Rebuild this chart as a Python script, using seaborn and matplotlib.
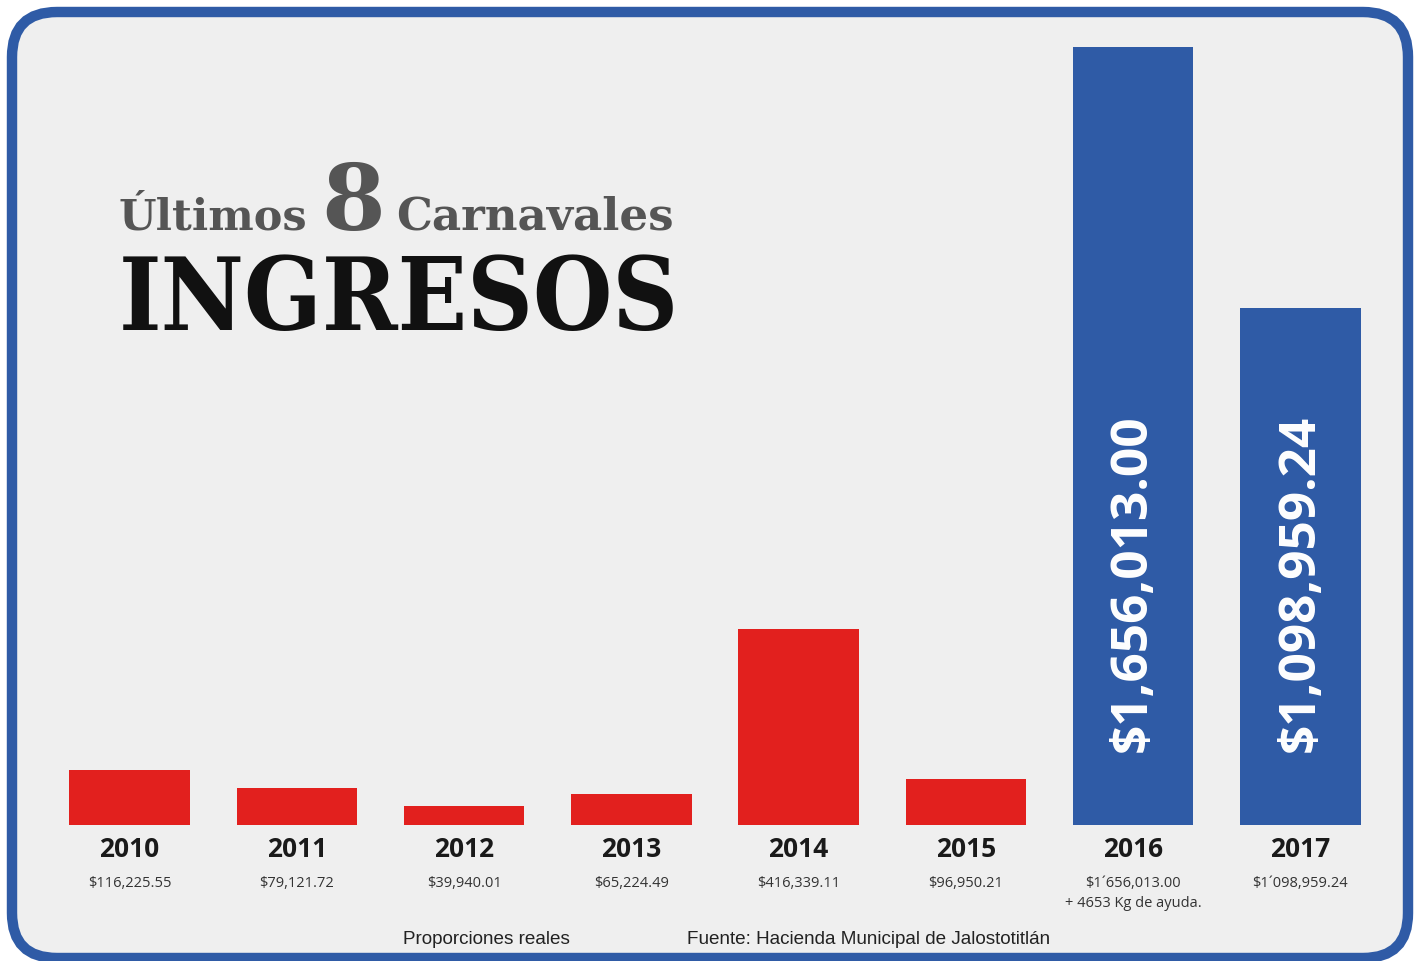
import numpy as np
import pandas as pd
import matplotlib
matplotlib.use('Agg')
import matplotlib.pyplot as plt
from matplotlib.patches import FancyBboxPatch
from matplotlib.transforms import IdentityTransform
import seaborn as sns

# ── data ──────────────────────────────────────
years = ['2010', '2011', '2012', '2013', '2014', '2015', '2016', '2017']
ingresos = [116225.55, 79121.72, 39940.01, 65224.49,
            416339.11, 96950.21, 1656013.00, 1098959.24]
value_labels = ['$116,225.55', '$79,121.72', '$39,940.01', '$65,224.49',
                '$416,339.11', '$96,950.21', '$1\u00b4656,013.00',
                '$1\u00b4098,959.24']
extra_note = {'2016': '+ 4653 Kg de ayuda.'}
big_labels = {'2016': '$1,656,013.00', '2017': '$1,098,959.24'}
bar_colors = ['#e2201e'] * 6 + ['#2f5ba6'] * 2

RED = '#e2201e'
BLUE = '#2f5ba6'
BG = '#efefef'

df = pd.DataFrame({'year': years, 'ingreso': ingresos})

sns.set_theme(style='white')
plt.rcParams['font.family'] = ['Open Sans', 'DejaVu Sans']

W, H = 1421, 962
fig = plt.figure(figsize=(W / 100, H / 100), dpi=100)
fig.patch.set_facecolor('white')

# rounded frame (behind the axes)
frame = FancyBboxPatch((12, 3), 1396, 946,
                       boxstyle='round,pad=0,rounding_size=45',
                       transform=IdentityTransform(),
                       facecolor=BG, edgecolor=BLUE, linewidth=7.5,
                       zorder=-5)
fig.patches.append(frame)

# ── axes ──────────────────────────────────────
ax_left, ax_right = 46, 1384
base_y, top_y = 826, 27
ax = fig.add_axes([ax_left / W, (H - base_y) / H,
                   (ax_right - ax_left) / W, (base_y - top_y) / H])
ax.set_facecolor('none')
ax.set_zorder(2)

sns.barplot(data=df, x='year', y='ingreso', hue='year',
            palette=bar_colors, legend=False, width=0.72,
            saturation=1, linewidth=0, ax=ax)
ax.set_xlim(-0.5, 7.5)
ax.set_ylim(0, 1.7e6)
sns.despine(ax=ax, left=True, bottom=True)
ax.set_xticks([])
ax.set_yticks([])
ax.set_xlabel('')
ax.set_ylabel('')

px = 0.72  # points per pixel
for i, (yr, lab) in enumerate(zip(years, value_labels)):
    ax.annotate(yr, xy=(i, 0), xytext=(0, -24 * px),
                textcoords='offset points', ha='center', va='center',
                fontsize=19, fontweight='bold', color='#1a1a1a',
                annotation_clip=False)
    ax.annotate(lab, xy=(i, 0), xytext=(0, -58 * px),
                textcoords='offset points', ha='center', va='center',
                fontsize=10.5, color='#333333', annotation_clip=False)
    if yr in extra_note:
        ax.annotate(extra_note[yr], xy=(i, 0), xytext=(0, -78 * px),
                    textcoords='offset points', ha='center', va='center',
                    fontsize=10.5, color='#333333', annotation_clip=False)
    if yr in big_labels:
        ax.annotate(big_labels[yr], xy=(i, 0), xytext=(0, 74 * px),
                    textcoords='offset points', ha='left', va='center',
                    rotation=90, rotation_mode='anchor',
                    fontsize=37, fontweight='bold', color='white')

# ── title ─────────────────────────────────────
serif = ['DejaVu Serif']
fig.text(118 / W, 1 - 230 / H, '\u00daltimos', fontsize=31,
         fontweight='bold', family=serif, color='#555555', va='baseline')
fig.text(321 / W, 1 - 230 / H, '8', fontsize=66,
         fontweight='bold', family=serif, color='#555555', va='baseline')
fig.text(396 / W, 1 - 230 / H, 'Carnavales', fontsize=32.5,
         fontweight='bold', family=serif, color='#555555', va='baseline')
fig.text(119 / W, 1 - 330 / H, 'INGRESOS', fontsize=73,
         fontweight='bold', family=serif, color='#111111', va='baseline',
         fontstretch='condensed')

# ── footer ────────────────────────────────────
fig.text(403 / W, 1 - 940 / H, 'Proporciones reales', fontsize=13.6,
         family=['Liberation Sans'], color='#222222', va='center')
fig.text(687 / W, 1 - 940 / H,
         'Fuente: Hacienda Municipal de Jalostotitl\u00e1n', fontsize=13.6,
         family=['Liberation Sans'], color='#222222', va='center')

fig.savefig('out.png', dpi=100, facecolor='white')
